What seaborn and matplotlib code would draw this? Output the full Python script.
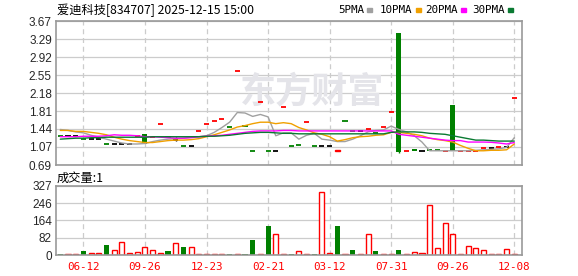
import numpy as np
import pandas as pd
import matplotlib
matplotlib.use("Agg")
import matplotlib.pyplot as plt
import seaborn as sns

# ---------------- data ----------------
title = "爱迪科技[834707] 2025-12-15 15:00"
vol_title = "成交量:1"
x_tick_pos = [3, 11, 19, 27, 35, 43, 51, 59]
x_tick_labels = ["06-12", "09-26", "12-23", "02-21", "03-12", "07-31", "09-26", "12-08"]
price_ticks = [0.69, 1.07, 1.44, 1.81, 2.18, 2.55, 2.92, 3.29, 3.67]
vol_ticks = [0, 82, 164, 246, 327]

opens = [1.30, 1.30, 1.30, 1.23, 1.23, 1.23, 1.12, 1.12, 1.12, 1.12,
         1.30, 1.335, 1.28, 1.54, 1.27, 1.22, 1.08, 1.08, 1.40, 1.54,
         1.60, 1.64, 1.475, 2.63, 1.495, 0.99, 1.99, 0.99, 0.99, 1.89,
         1.08, 1.10, 1.58, 1.08, 1.08, 1.08, 0.98, 1.60, 1.39, 1.39,
         1.43, 1.35, 1.475, 1.785, 3.42, 0.985, 1.02, 0.985, 1.00, 1.00,
         0.99, 1.935, 0.99, 0.99, 0.99, 1.04, 1.04, 1.06, 1.06, 2.07]
closes = [1.30, 1.30, 1.30, 1.23, 1.23, 1.23, 1.12, 1.12, 1.12, 1.12,
          1.30, 1.14, 1.28, 1.54, 1.27, 1.22, 1.08, 1.08, 1.40, 1.54,
          1.60, 1.64, 1.475, 2.63, 1.495, 0.99, 1.99, 0.99, 0.99, 1.89,
          1.08, 1.10, 1.58, 1.08, 1.08, 1.08, 1.01, 1.60, 1.39, 1.39,
          1.43, 1.35, 1.475, 1.785, 0.97, 0.985, 0.99, 0.985, 1.00, 1.00,
          0.99, 0.99, 0.99, 0.99, 0.99, 1.04, 1.04, 1.06, 1.06, 2.07]
lows = list(closes)
highs = list(opens)
lows[15], highs[15] = 1.20, 1.27
lows[44] = 0.95
candle_color = ["g", "k", "k", "g", "k", "k", "g", "k", "k", "k",
                "r", "g", "r", "r", "g", "k", "g", "k", "r", "r",
                "r", "r", "g", "r", "g", "g", "r", "g", "k", "r",
                "g", "g", "r", "g", "k", "k", "r", "g", "g", "k",
                "r", "g", "r", "r", "g", "r", "g", "k", "g", "g",
                "r", "g", "r", "r", "r", "r", "k", "r", "k", "r"]

ma5 = [1.43, 1.41, 1.38, 1.36, 1.31, 1.27, 1.23, 1.19, 1.15, 1.13,
       1.13, 1.14, 1.18, 1.21, 1.23, 1.24, 1.25, 1.27, 1.28, 1.30,
       1.37, 1.47, 1.58, 1.78, 1.77, 1.70, 1.74, 1.69, 1.30, 1.36,
       1.36, 1.23, 1.31, 1.35, 1.23, 1.21, 1.18, 1.18, 1.23, 1.30,
       1.38, 1.41, 1.42, 1.50, 1.43, 1.38, 1.30, 1.17, 0.99, 0.99,
       0.99, 0.99, 0.99, 0.99, 1.00, 1.01, 1.02, 1.03, 1.06, 1.26]
ma10 = [1.41, 1.41, 1.39, 1.39, 1.37, 1.35, 1.32, 1.27, 1.23, 1.20,
        1.18, 1.16, 1.16, 1.18, 1.20, 1.21, 1.21, 1.22, 1.24, 1.28,
        1.32, 1.37, 1.42, 1.48, 1.51, 1.55, 1.58, 1.58, 1.55, 1.57,
        1.55, 1.47, 1.42, 1.36, 1.33, 1.28, 1.19, 1.22, 1.26, 1.28,
        1.29, 1.31, 1.32, 1.37, 1.37, 1.35, 1.33, 1.30, 1.25, 1.22,
        1.20, 1.17, 1.10, 1.04, 0.99, 0.99, 1.00, 1.00, 1.01, 1.13]
ma20 = [1.28, 1.28, 1.28, 1.29, 1.29, 1.29, 1.30, 1.32, 1.31, 1.31,
        1.30, 1.28, 1.28, 1.27, 1.26, 1.25, 1.25, 1.26, 1.28, 1.29,
        1.30, 1.31, 1.33, 1.35, 1.37, 1.39, 1.40, 1.40, 1.40, 1.41,
        1.41, 1.40, 1.40, 1.40, 1.40, 1.40, 1.40, 1.40, 1.40, 1.40,
        1.40, 1.40, 1.40, 1.40, 1.33, 1.31, 1.29, 1.27, 1.25, 1.23,
        1.21, 1.20, 1.20, 1.17, 1.17, 1.17, 1.165, 1.15, 1.13, 1.16]
ma30 = [1.23, 1.24, 1.25, 1.25, 1.26, 1.26, 1.27, 1.27, 1.27, 1.27,
        1.27, 1.27, 1.28, 1.28, 1.28, 1.28, 1.28, 1.28, 1.28, 1.29,
        1.29, 1.30, 1.31, 1.33, 1.35, 1.36, 1.37, 1.37, 1.36, 1.35,
        1.35, 1.34, 1.34, 1.34, 1.34, 1.34, 1.34, 1.34, 1.34, 1.34,
        1.34, 1.34, 1.34, 1.37, 1.38, 1.38, 1.38, 1.37, 1.35, 1.34,
        1.33, 1.30, 1.27, 1.24, 1.21, 1.21, 1.20, 1.19, 1.19, 1.19]

volumes = [5, 5, 5, 19, 10, 10, 48, 24, 62, 10,
           14, 37, 22, 10, 19, 57, 38, 37, 4, 4,
           4, 4, 4, 4, 4, 72, 4, 139, 100, 4,
           4, 18, 4, 4, 300, 10, 139, 4, 24, 4,
           100, 19, 4, 4, 24, 4, 14, 10, 238, 32,
           152, 100, 4, 41, 32, 22, 4, 4, 27, 4]
vol_color = ["g", "r", "r", "g", "r", "r", "g", "r", "r", "r",
             "r", "r", "r", "r", "g", "r", "g", "r", "r", "r",
             "r", "r", "g", "r", "g", "g", "r", "g", "r", "r",
             "g", "r", "r", "g", "r", "r", "g", "r", "g", "r",
             "r", "g", "r", "r", "g", "r", "r", "r", "r", "r",
             "r", "r", "r", "r", "r", "r", "r", "r", "r", "r"]

ma_names = ["5PMA", "10PMA", "20PMA", "30PMA"]
ma_colors = ["#a0a0a0", "#f0a000", "#ff00ff", "#0a7a32"]
legend_x = [338, 380, 425, 472]

# ---------------- style ----------------
sns.set_theme(style="white")
plt.rcParams["font.family"] = ["DejaVu Sans"]

RED = "#ff0000"
GREEN = "#008000"
cmap = {"r": RED, "g": GREEN, "k": "#000000"}

W, H = 578, 276
fig = plt.figure(figsize=(W / 100, H / 100), dpi=100)
fig.patch.set_facecolor("white")

def ax_rect(l, t, r, b):
    return [l / W, 1 - b / H, (r - l) / W, (b - t) / H]

axp = fig.add_axes(ax_rect(56, 21, 522, 165.3))
axv = fig.add_axes(ax_rect(56, 186, 522, 255))

n = len(closes)
idx = np.arange(n)
xlim = (-0.56, 60.0)
bw = 0.66

for ax in (axp, axv):
    ax.set_xlim(*xlim)
    ax.set_facecolor("white")
    for s in ax.spines.values():
        s.set_color("#999999")
        s.set_linewidth(1.2)
    ax.set_xticks(x_tick_pos)
    for xp in x_tick_pos:
        ax.axvline(xp, color="#cccccc", lw=0.9, ls=(0, (4, 3)), zorder=0)
    ax.tick_params(length=0)

# price panel
axp.set_ylim(price_ticks[0], price_ticks[-1])
axp.set_yticks(price_ticks)
axp.set_yticklabels([f"{t:.2f}" for t in price_ticks], family="Liberation Sans", fontsize=8.5)
axp.set_xticklabels([])
for t in price_ticks:
    axp.axhline(t, color="#cccccc", lw=0.9, zorder=0)
axp.tick_params(axis="y", pad=3)

axp.text((240 - 56) / 466, (165.3 - 92) / 144.3, "东方财富", transform=axp.transAxes,
         fontsize=26, fontweight="bold", color="#e4e4e9", family=["Noto Sans CJK SC"],
         ha="left", va="center", zorder=0)

for i in range(n):
    o, c, lo, hi = opens[i], closes[i], lows[i], highs[i]
    col = cmap[candle_color[i]]
    if hi > max(o, c) or lo < min(o, c):
        axp.vlines(i, lo, hi, colors=col, lw=1, zorder=2)
    if abs(c - o) < 1e-9:
        axp.hlines(o, i - bw / 2, i + bw / 2, colors=col, lw=1.3, zorder=2)
    else:
        if candle_color[i] == "r":
            axp.bar(i, abs(c - o), bottom=min(o, c), width=bw, facecolor="white",
                    edgecolor=RED, lw=1, zorder=2)
        else:
            axp.bar(i, abs(c - o), bottom=min(o, c), width=bw, color=col, lw=0, zorder=2)

ma_df = pd.DataFrame({"idx": idx, "5PMA": ma5, "10PMA": ma10, "20PMA": ma20, "30PMA": ma30})
for name, col in zip(ma_names, ma_colors):
    sns.lineplot(data=ma_df, x="idx", y=name, ax=axp, color=col, lw=1.0, zorder=3, legend=False)
axp.set_xlabel("")
axp.set_ylabel("")
axp.set_xlim(*xlim)

# volume panel
axv.set_ylim(0, vol_ticks[-1])
axv.set_yticks(vol_ticks)
axv.set_yticklabels([str(t) for t in vol_ticks], family="Liberation Sans", fontsize=8.5)
for t in vol_ticks:
    axv.axhline(t, color="#cccccc", lw=0.9, zorder=0)
axv.set_xticklabels(x_tick_labels, color=RED, family="DejaVu Sans Mono", fontsize=7.8)
axv.tick_params(axis="x", pad=5)
axv.tick_params(axis="y", pad=3)
for i in range(n):
    if vol_color[i] == "r":
        axv.bar(i, volumes[i], width=bw, facecolor="white", edgecolor=RED, lw=1, zorder=2)
    else:
        axv.bar(i, volumes[i], width=bw, color=GREEN, lw=0, zorder=2)

# header texts
fig.text(57 / W, 1 - 10 / H, title, fontsize=8.8, family=["Noto Sans CJK SC", "DejaVu Sans"],
         ha="left", va="center", color="#000000")
fig.text(57 / W, 1 - 178 / H, vol_title, fontsize=8.8, family=["Noto Sans CJK SC", "DejaVu Sans"],
         ha="left", va="center", color="#000000")

# legend
fig.canvas.draw()
renderer = fig.canvas.get_renderer()
for name, col, lx in zip(ma_names, ma_colors, legend_x):
    t = fig.text(lx / W, 1 - 10 / H, name, fontsize=7.8, family="DejaVu Sans Mono",
                 ha="left", va="center", color="#000000")
    bb = t.get_window_extent(renderer=renderer)
    x_end = bb.x1
    fig.patches.append(plt.Rectangle(((x_end + 3) / W, 1 - 11.5 / H), 5 / W, 3 / H,
                                     transform=fig.transFigure, color=col, figure=fig))

fig.savefig("out.png", dpi=100, facecolor="white")
